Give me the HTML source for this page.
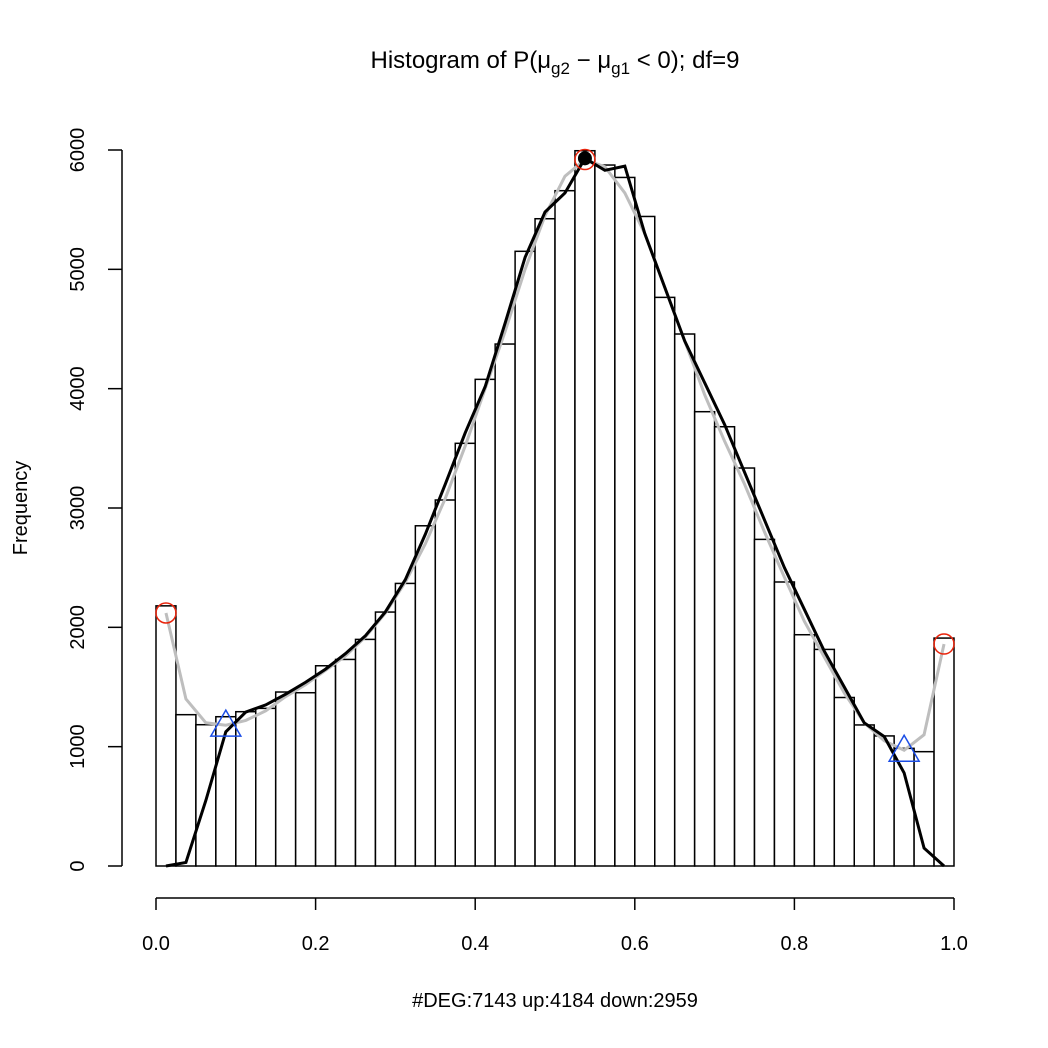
<!DOCTYPE html>
<html><head><meta charset="utf-8"><style>
html,body{margin:0;padding:0;background:#fff;}
svg{display:block;font-family:"Liberation Sans",sans-serif;}
</style></head><body>
<svg id="chart" width="1048" height="1048" viewBox="0 0 1048 1048">
<rect x="0" y="0" width="1048" height="1048" fill="#fff"/>
<text x="555" y="68" font-size="24" text-anchor="middle">Histogram of P(μ<tspan font-size="17" dy="6">g2</tspan><tspan dy="-6"> − μ</tspan><tspan font-size="17" dy="6">g1</tspan><tspan dy="-6"> &lt; 0); df=9</tspan></text>
<text x="555" y="1007" font-size="20" text-anchor="middle">#DEG:7143 up:4184 down:2959</text>
<text x="0" y="0" font-size="20" text-anchor="middle" transform="translate(27,508) rotate(-90)">Frequency</text>
<g id="bars"></g><g id="axes"></g><g id="lines"></g><g id="markers"></g>
</svg>
<script>
const counts = [2180,1268,1184,1251,1293,1321,1458,1452,1678,1731,1899,2128,2368,2851,3067,3542,4078,4374,5151,5424,5659,5994,5874,5770,5443,4765,4458,3807,3681,3335,2737,2380,1938,1815,1412,1182,1090,986,958,1910];
const greyFit = [2120,1400,1200,1180,1220,1300,1420,1520,1640,1760,1920,2120,2380,2700,3080,3520,4000,4480,5000,5450,5780,5920,5860,5640,5300,4850,4400,3950,3560,3200,2800,2420,2050,1750,1450,1200,1050,970,1100,1860];
const blackFit = [0,30,550,1125,1290,1350,1440,1540,1650,1780,1930,2130,2400,2780,3200,3630,4017,4550,5100,5480,5640,5930,5830,5865,5300,4850,4400,4050,3700,3300,2900,2500,2150,1800,1500,1200,1085,780,150,0];
const xTicks = [0,0.2,0.4,0.6,0.8,1.0];
const xTickLabels = ["0.0","0.2","0.4","0.6","0.8","1.0"];
const yTicks = [0,1000,2000,3000,4000,5000,6000];
const circleBins = [0,21,39];
const triangleBins = [3,37];
const peakBin = 21;
const binWidth = 0.025;

const NS = "http://www.w3.org/2000/svg";
const X = v => 156 + v * 798;
const Y = v => 866 - v * (716 / 6000);
function mk(tag, attrs, parent) {
  const e = document.createElementNS(NS, tag);
  for (const k in attrs) e.setAttribute(k, attrs[k]);
  parent.appendChild(e);
  return e;
}
const gb = document.getElementById('bars');
counts.forEach((c, i) => {
  const r = mk('rect', {x: X(i*binWidth), y: Y(c), width: X((i+1)*binWidth) - X(i*binWidth), height: Y(0) - Y(c), fill: '#fff', stroke: '#000', 'stroke-width': 1.5}, gb);
  
  
});
const ga = document.getElementById('axes');
const xa = mk('line', {x1: X(0), x2: X(1), y1: 898, y2: 898, stroke: '#000', 'stroke-width': 1.5}, ga);


xTicks.forEach((t, i) => {
  mk('line', {x1: X(t), x2: X(t), y1: 898, y2: 910, stroke: '#000', 'stroke-width': 1.5}, ga);
  const tx = mk('text', {x: X(t), y: 950, 'font-size': 20, 'text-anchor': 'middle'}, ga);
  tx.textContent = xTickLabels[i];
  
  
});
const ya = mk('line', {x1: 122, x2: 122, y1: Y(0), y2: Y(6000), stroke: '#000', 'stroke-width': 1.5}, ga);


yTicks.forEach(t => {
  mk('line', {x1: 108, x2: 122, y1: Y(t), y2: Y(t), stroke: '#000', 'stroke-width': 1.5}, ga);
  const tx = mk('text', {x: 0, y: 0, 'font-size': 20, 'text-anchor': 'middle', transform: `translate(84,${Y(t)}) rotate(-90)`}, ga);
  tx.textContent = String(t);
  
  
});
const mid = i => X((i + 0.5) * binWidth);
const gl = document.getElementById('lines');
const gp = mk('polyline', {points: greyFit.map((v,i) => mid(i)+','+Y(v)).join(' '), fill: 'none', stroke: '#bebebe', 'stroke-width': 3}, gl);


const bp = mk('polyline', {points: blackFit.map((v,i) => mid(i)+','+Y(v)).join(' '), fill: 'none', stroke: '#000', 'stroke-width': 3}, gl);


const gm = document.getElementById('markers');
const dot = mk('circle', {cx: mid(peakBin), cy: Y(blackFit[peakBin]), r: 7, fill: '#000'}, gm);


circleBins.forEach(i => {
  const c = mk('circle', {cx: mid(i), cy: Y(greyFit[i]), r: 10, fill: 'none', stroke: '#e8240c', 'stroke-width': 1.5}, gm);
  
  
});
triangleBins.forEach(i => {
  const cx = mid(i), cy = Y(greyFit[i]);
  const t = mk('polygon', {points: `${cx},${cy-15} ${cx-15},${cy+11} ${cx+15},${cy+11}`, fill: 'none', stroke: '#1c4ee6', 'stroke-width': 1.5}, gm);
  
  
});
</script>
</body></html>
